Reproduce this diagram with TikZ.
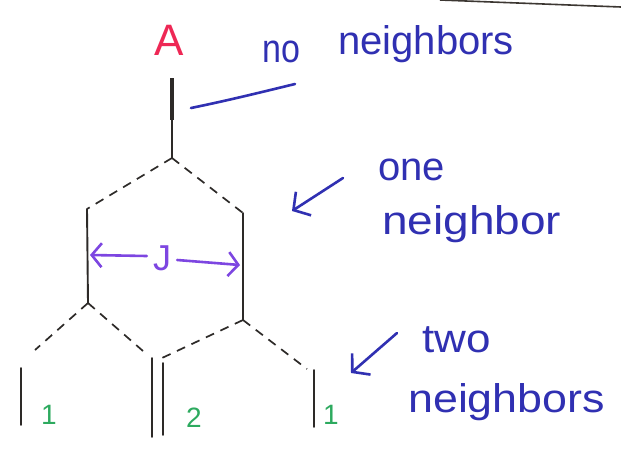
\documentclass[tikz,border=0pt]{standalone}
\usepackage{fontspec}
\setmainfont{Liberation Sans}
\usetikzlibrary{arrows.meta}
\definecolor{ink}{RGB}{48,48,178}
\definecolor{pen}{RGB}{45,42,40}
\definecolor{jink}{RGB}{125,70,225}
\definecolor{redink}{RGB}{238,40,85}
\definecolor{greenink}{RGB}{45,170,95}
\definecolor{edgeink}{RGB}{60,55,50}
\begin{document}
\begin{tikzpicture}[x=1pt,y=-1pt,
  bondline/.style={draw=pen, line width=1.9pt, line cap=round},
  dashbond/.style={draw=pen, line width=1.7pt, dash pattern=on 9pt off 7pt},
  note/.style={text=ink, font=\fontsize{40}{42}\selectfont, inner sep=0pt, anchor=base west},
  count/.style={text=greenink, font=\fontsize{28}{30}\selectfont, inner sep=0pt},
  pointer/.style={draw=ink, line width=2.6pt, line cap=round, -{Straight Barb[length=12pt,width=28pt,line width=2.6pt]}},
  jarrow/.style={draw=jink, line width=2.6pt, line cap=round, -{Straight Barb[length=10pt,width=24pt,line width=2.6pt]}},
  ]
\useasboundingbox (0,0) rectangle (621,450);
\fill[white] (0,0) rectangle (621,450);

% paper edge
\coordinate (e1) at (440,0);
\coordinate (e2) at (621,7);
\draw[edgeink, line width=1.6pt] (e1) -- (e2);

% label of the atom
\node[text=redink, font=\fontsize{44}{46}\selectfont, inner sep=0pt] (A) at (169,40) {A};

% vertices
\coordinate (top) at (172,78);
\coordinate (mid) at (172,120);
\coordinate (v0) at (172,158);
\coordinate (v1) at (87,209);
\coordinate (v2) at (243,213);
\coordinate (v1b) at (88,303);
\coordinate (v2b) at (243,320);
\coordinate (l1) at (35,350);
\coordinate (l2) at (143,351);
\coordinate (l3) at (162,358);
\coordinate (l4) at (307,369);
\coordinate (a1) at (21,368);
\coordinate (a2) at (21,425);
\coordinate (b1) at (152,358);
\coordinate (b2) at (152,437);
\coordinate (c1) at (163,363);
\coordinate (c2) at (163,435);
\coordinate (d1) at (314,370);
\coordinate (d2) at (314,427);

% top bond
\draw[draw=pen, line width=3.6pt, line cap=butt] (top) -- (mid);
\draw[bondline, line width=2.2pt] (mid) -- (v0);

% dashed bonds
\draw[dashbond] (v0) -- (v1);
\draw[dashbond] (v0) -- (v2);
\draw[dashbond] (v1b) -- (l1);
\draw[dashbond] (v1b) -- (l2);
\draw[dashbond] (v2b) -- (l3);
\draw[dashbond] (v2b) -- (l4);

% solid bonds
\draw[bondline] (v1) -- (v1b);
\draw[bondline] (v2) -- (v2b);
\draw[bondline] (a1) -- (a2);
\draw[bondline] (b1) -- (b2);
\draw[bondline] (c1) -- (c2);
\draw[bondline] (d1) -- (d2);

% J coupling
\node[text=jink, font=\fontsize{36}{38}\selectfont, inner sep=0pt] (J) at (162,258) {J};
\coordinate (jl) at (90,255);
\coordinate (jr) at (240,265);
\draw[jarrow] (J.west) ++(-6,-2) coordinate (jls) -- (jl);
\draw[jarrow] (J.east) ++(6,2) coordinate (jrs) -- (jr);

% counts
\node[count] (n1) at (49,415) {1};
\node[count] (n2) at (194,418) {2};
\node[count] (n3) at (331,415) {1};

% annotations
\node[note, xscale=0.85, transform shape] (no) at (262,62) {no};
\node[note] (nb0) at (338,54) {neighbors};
\coordinate (p0s) at (191,108);
\coordinate (p0e) at (295,84);
\draw[draw=ink, line width=2.6pt, line cap=round] (p0s) .. controls (230,100) and (262,92) .. (p0e);

\node[note] (one) at (378,180) {one};
\node[note, xscale=1.15, transform shape] (nb1) at (382,234) {neighbor};
\coordinate (p1s) at (343,178);
\coordinate (p1e) at (292,211);
\draw[pointer] (p1s) -- (p1e);

\node[note, xscale=1.1, transform shape] (two) at (422,352) {two};
\node[note, xscale=1.12, transform shape] (nb2) at (408,412) {neighbors};
\coordinate (p2s) at (397,333);
\coordinate (p2e) at (351,373);
\draw[pointer] (p2s) -- (p2e);
\end{tikzpicture}
\end{document}
